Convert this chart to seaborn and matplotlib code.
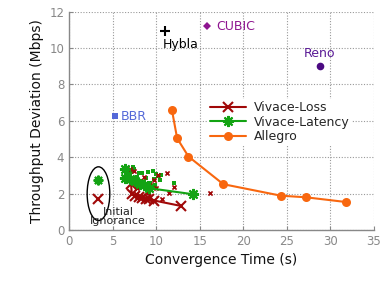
import matplotlib
matplotlib.use("Agg")
import matplotlib.pyplot as plt
from matplotlib.patches import Ellipse
import seaborn as sns

# Main series (convergence time in s, throughput deviation in Mbps)
loss_x = [7.1, 7.2, 7.6, 8.0, 8.4, 8.8, 9.2, 9.8, 12.8]
loss_y = [2.55, 2.0, 1.85, 1.8, 1.75, 1.7, 1.68, 1.62, 1.33]
latency_x = [6.4, 6.45, 7.0, 7.6, 8.15, 8.55, 9.2, 14.2]
latency_y = [3.38, 2.85, 2.78, 2.69, 2.55, 2.47, 2.3, 1.97]
allegro_x = [11.8, 12.4, 13.7, 17.7, 24.3, 27.2, 31.8]
allegro_y = [6.6, 5.04, 4.04, 2.52, 1.89, 1.8, 1.54]

# Individual runs (small markers)
lat_runs_x = [7.3, 7.5, 8.0, 8.4, 9.0, 9.6, 10.0, 10.25, 10.45, 9.7, 12.0,
              6.9, 7.8, 8.8, 9.3, 8.2, 7.1, 6.6, 10.6, 9.9]
lat_runs_y = [3.45, 3.33, 3.11, 3.15, 3.18, 3.24, 3.09, 2.96, 2.74, 2.78, 2.6,
              3.0, 2.9, 2.85, 2.6, 2.7, 3.2, 3.05, 3.0, 2.5]
loss_runs_x = [7.0, 7.5, 10.2, 11.25, 12.05, 9.7, 10.7, 16.2, 8.6, 9.3, 8.0,
               10.0, 11.5, 7.8, 9.0]
loss_runs_y = [3.38, 3.22, 3.02, 3.13, 2.38, 2.73, 1.7, 2.06, 2.9, 2.45, 2.55,
               2.3, 2.05, 2.3, 2.05]

# Initial ignorance points
init_x = [3.37, 3.37]
init_y = [2.77, 1.71]

# Other protocols
others = ["Hybla", "CUBIC", "Reno", "BBR"]
others_x = [10.98, 15.84, 28.85, 5.32]
others_y = [10.96, 11.2, 9.0, 6.26]

c_loss = "#a00808"
c_lat = "#13a313"
c_allegro = "#f8670f"

sns.set_style("white")
plt.rcParams["font.family"] = ["DejaVu Sans"]

fig, ax = plt.subplots(figsize=(3.84, 2.83), dpi=100)
fig.subplots_adjust(left=0.18, right=0.974, bottom=0.187, top=0.959)

# individual runs
sns.scatterplot(x=lat_runs_x, y=lat_runs_y, marker="s", s=7, color=c_lat,
                linewidth=0, ax=ax, zorder=3)
sns.scatterplot(x=loss_runs_x, y=loss_runs_y, marker="x", s=9, color=c_loss,
                linewidth=1.2, ax=ax, zorder=3)

# main lines
sns.lineplot(x=loss_x, y=loss_y, sort=False, estimator=None, color=c_loss,
             marker="x", markersize=7, markeredgewidth=1.5,
             markeredgecolor=c_loss, linewidth=1.5,
             label="Vivace-Loss", ax=ax, zorder=4)
sns.lineplot(x=latency_x, y=latency_y, sort=False, estimator=None, color=c_lat,
             marker=(8, 2, 0), markersize=8, markeredgewidth=1.5,
             markeredgecolor=c_lat, linewidth=1.5,
             label="Vivace-Latency", ax=ax, zorder=4)
sns.lineplot(x=allegro_x, y=allegro_y, sort=False, estimator=None,
             color=c_allegro, marker="o", markersize=6.5, markeredgewidth=0,
             markeredgecolor=c_allegro, linewidth=1.5,
             label="Allegro", ax=ax, zorder=4)

# initial ignorance
ax.plot(init_x[0], init_y[0], marker=(8, 2, 0), color=c_lat, ms=7, mew=1.5)
ax.plot(init_x[1], init_y[1], marker="x", color=c_loss, ms=7, mew=1.5)
ax.add_patch(Ellipse((3.37, 2.0), width=2.6, height=2.95, fill=False,
                     edgecolor="black", linewidth=1))
ax.text(5.6, 0.75, "Initial\nIgnorance", ha="center", va="center",
        fontsize=8, linespacing=0.95, color="#222222")

# other protocols
ax.plot(others_x[0], others_y[0], marker="+", color="black", ms=7, mew=1.5)
ax.text(others_x[0] - 0.2, others_y[0] - 0.75, others[0], fontsize=9,
        color="black", ha="left", va="center")
ax.plot(others_x[1], others_y[1], marker="D", color="#8e1590", ms=4.5, mew=0)
ax.text(others_x[1] + 1.0, others_y[1], others[1], fontsize=9,
        color="#8e1590", ha="left", va="center")
ax.plot(others_x[2], others_y[2], marker="o", color="#4b0a82", ms=5.5, mew=0)
ax.text(others_x[2] - 0.1, others_y[2] + 0.7, others[2], fontsize=9,
        color="#5a1a96", ha="center", va="center")
ax.plot(others_x[3], others_y[3], marker="s", color="#5468d8", ms=4.5, mew=0)
ax.text(others_x[3] + 0.55, others_y[3], others[3], fontsize=9,
        color="#5468d8", ha="left", va="center")

ax.set_xlim(0, 35)
ax.set_ylim(0, 12)
ax.set_xticks(range(0, 36, 5))
ax.set_yticks(range(0, 13, 2))
ax.grid(True, linestyle=(0, (1, 1.5)), color="#999999", linewidth=0.8)
ax.set_axisbelow(True)
for side in ["top", "right"]:
    ax.spines[side].set_visible(False)
for side in ["left", "bottom"]:
    ax.spines[side].set_color("#888888")
    ax.spines[side].set_linewidth(1.0)
ax.tick_params(axis="both", direction="in", length=3, color="#888888",
               labelcolor="#888888", labelsize=8.5, bottom=True, left=True)
ax.set_xlabel("Convergence Time (s)", fontsize=10, color="#111111")
ax.set_ylabel("Throughput Deviation (Mbps)", fontsize=10, color="#111111")

leg = ax.legend(loc="upper left", bbox_to_anchor=(0.453, 0.60), fontsize=9,
                frameon=True, framealpha=1, edgecolor="none", facecolor="white",
                handlelength=2.9, handletextpad=0.6, labelspacing=0.1,
                borderpad=0.2, borderaxespad=0)

fig.savefig("out.png", dpi=100)
